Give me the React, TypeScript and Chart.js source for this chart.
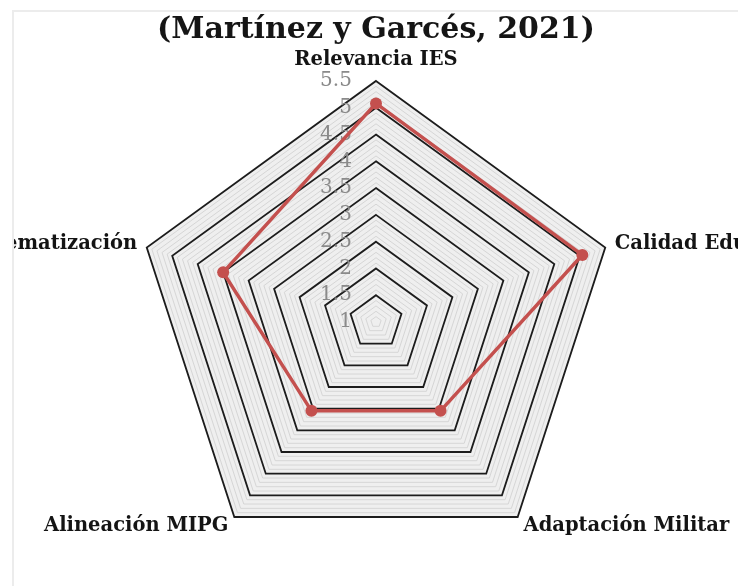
import React, { useEffect, useRef } from "react";
import { Chart, registerables } from "chart.js";

Chart.register(...registerables);

const TITLE = "(Martínez y Garcés, 2021)";
const CATEGORIES = [
  "Relevancia IES",
  "Calidad Educativa",
  "Adaptación Militar",
  "Alineación MIPG",
  "Sistematización",
];
const SERIES_LABEL = "Valoración";
const VALUES = [5.08, 5.05, 3.05, 3.05, 4.0];
const TICK_LABELS = ["1", "1.5", "2", "2.5", "3", "3.5", "4", "4.5", "5", "5.5"];
const SCALE_MIN = 1;
const SCALE_MAX = 5.5;
const MINOR_STEP = 0.1;

const VIEW_W = 738;
const VIEW_H = 586;
const EXTRA = 200; // canvas overflow on each side (labels are cropped like the original)
const CANVAS_W = 2 * (376 + EXTRA);

const round3 = (v: number) => Math.round(v * 1000) / 1000;
const tickLabelFor = (v: number) =>
  TICK_LABELS.find((t) => Math.abs(parseFloat(t) - v) < 1e-6);

const bgPlugin = {
  id: "radarBackground",
  beforeDraw(chart: any) {
    const s = chart.scales.r;
    if (!s) return;
    const ctx = chart.ctx;
    ctx.save();
    ctx.beginPath();
    for (let i = 0; i < CATEGORIES.length; i++) {
      const p = s.getPointPosition(i, s.drawingArea);
      if (i === 0) ctx.moveTo(p.x, p.y);
      else ctx.lineTo(p.x, p.y);
    }
    ctx.closePath();
    ctx.fillStyle = "#efefef";
    ctx.fill();
    ctx.restore();
  },
};

export default function App() {
  const ref = useRef<HTMLCanvasElement | null>(null);

  useEffect(() => {
    document.body.style.margin = "0";
    const canvas = ref.current;
    if (!canvas) return;
    const chart = new Chart(canvas, {
      type: "radar",
      data: {
        labels: CATEGORIES,
        datasets: [
          {
            label: SERIES_LABEL,
            data: VALUES,
            borderColor: "#c4504e",
            backgroundColor: "#c4504e",
            borderWidth: 3.5,
            pointRadius: 6,
            pointBorderWidth: 0,
            pointBackgroundColor: "#c4504e",
            fill: false,
            tension: 0,
          },
        ],
      },
      plugins: [bgPlugin],
      options: {
        responsive: false,
        animation: false,
        layout: { padding: { top: 0, bottom: 6, left: 0, right: 0 } },
        plugins: {
          legend: { display: false },
          tooltip: { enabled: false },
          title: {
            display: true,
            text: TITLE,
            color: "#151515",
            font: { family: "DejaVu Serif", weight: "bold", size: 30, lineHeight: 1 },
            padding: { top: 15, bottom: 9 },
          },
        },
        scales: {
          r: {
            min: SCALE_MIN,
            max: SCALE_MAX,
            startAngle: 0,
            afterBuildTicks: (scale: any) => {
              const ticks: { value: number }[] = [{ value: SCALE_MIN }];
              const n = Math.round((SCALE_MAX - SCALE_MIN) / MINOR_STEP);
              for (let i = 0; i <= n; i++) {
                ticks.push({ value: round3(SCALE_MIN + i * MINOR_STEP) });
              }
              scale.ticks = ticks;
            },
            angleLines: { display: false },
            grid: {
              circular: false,
              color: (ctx: any) => {
                const v = ctx.tick ? ctx.tick.value : 0;
                if (v <= SCALE_MIN) return "rgba(0,0,0,0)";
                return tickLabelFor(v) ? "#1c1c1c" : "#d6d6d6";
              },
              lineWidth: (ctx: any) => {
                const v = ctx.tick ? ctx.tick.value : 0;
                return tickLabelFor(v) ? 1.8 : 1;
              },
            },
            ticks: {
              display: true,
              autoSkip: false,
              showLabelBackdrop: false,
              backdropPadding: 0,
              color: "#8a8a8a",
              font: { family: "DejaVu Serif", size: 20 },
              callback: (value: any) => {
                const lbl = tickLabelFor(Number(value));
                if (!lbl) return "";
                const lead = lbl.includes(".") ? "" : "\u2008\u2007";
                return lead + lbl + "\u2003\u2003\u2003\u2003";
              },
            },
            pointLabels: {
              display: true,
              color: "#141414",
              font: { family: "DejaVu Serif", weight: "bold", size: 19.5, lineHeight: 0.1 },
              padding: (ctx: any) => (ctx.index === 0 ? 10 : 0),
            },
          },
        },
      },
    } as any);
    return () => chart.destroy();
  }, []);

  return (
    <div
      style={{
        position: "fixed",
        left: 0,
        top: 0,
        width: VIEW_W,
        height: VIEW_H,
        overflow: "hidden",
        background: "#ffffff",
      }}
    >
      <div
        style={{
          position: "absolute",
          left: 12,
          top: 10,
          right: 0,
          bottom: 0,
          borderLeft: "2px solid #ececec",
          borderTop: "2px solid #ececec",
        }}
      />
      <div
        style={{
          position: "absolute",
          left: 14,
          top: 12,
          width: VIEW_W - 14,
          height: VIEW_H - 12,
          overflow: "hidden",
        }}
      >
        <canvas
          ref={ref}
          width={CANVAS_W}
          height={VIEW_H}
          style={{
            position: "absolute",
            left: -(EXTRA + 14),
            top: -12,
            width: CANVAS_W,
            height: VIEW_H,
          }}
        />
      </div>
    </div>
  );
}
